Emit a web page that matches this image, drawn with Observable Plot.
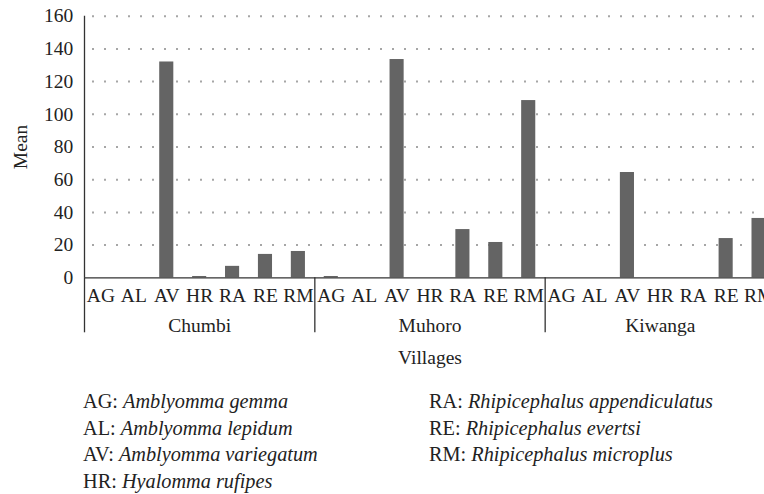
<!DOCTYPE html>
<html><head><meta charset="utf-8">
<script src="https://cdn.jsdelivr.net/npm/d3@7"></script>
<script src="https://cdn.jsdelivr.net/npm/@observablehq/plot@0.6"></script>
<style>
html,body{margin:0;padding:0;overflow:hidden;background:#fff;width:764px;height:494px;position:relative;}
#chart{position:absolute;left:0;top:0;}
#chart svg{max-width:none !important;}
.legend{position:absolute;top:388px;font-family:"Liberation Serif",serif;font-size:20.3px;line-height:26.5px;color:#222;white-space:nowrap;}
.legend i{font-style:italic;}
</style></head>
<body>
<div id="chart"></div>
<div class="legend" id="legL" style="left:83px"></div>
<div class="legend" id="legR" style="left:429px"></div>
<script>
const villages = ["Chumbi", "Muhoro", "Kiwanga"];
const species = ["AG", "AL", "AV", "HR", "RA", "RE", "RM"];
const chumbi = [0, 0, 132, 0.8, 7, 14.3, 16.1];
const muhoro = [0.8, 0, 133.5, 0, 29.5, 21.6, 108.4];
const kiwanga = [0, 0, 64.4, 0, 0, 24, 36.3];
const yTicks = [0, 20, 40, 60, 80, 100, 120, 140, 160];
const speciesNames = ["Amblyomma gemma", "Amblyomma lepidum", "Amblyomma variegatum", "Hyalomma rufipes",
  "Rhipicephalus appendiculatus", "Rhipicephalus evertsi", "Rhipicephalus microplus"];
const xTitle = "Villages";
const yTitle = "Mean";

const series = [chumbi, muhoro, kiwanga];
const rows = villages.flatMap((v, vi) => species.map((s, si) => ({village: v, species: s, key: v + "|" + s, mean: series[vi][si]})));
const keys = rows.map(d => d.key);

const W = 775, H = 380, ML = 84, MR = 0, MT = 15.7, MB = H - 277.3;
const step = (W - ML - MR) / keys.length;
const FS = 19.5;

const plot = Plot.plot({
  width: W, height: H, marginLeft: ML, marginRight: MR, marginTop: MT, marginBottom: MB,
  style: "max-width:none;font-family:'Liberation Serif',serif;font-size:19.5px;color:#222;background:#fff;overflow:visible",
  x: {type: "band", domain: keys, padding: 0, round: false, label: null},
  y: {domain: [0, 160], label: null},
  marks: [
    Plot.ruleY(yTicks.filter(t => t > 0), {stroke: "#a6a6a6", strokeWidth: 2, strokeDasharray: "2,10", strokeDashoffset: 4}),
    Plot.barY(rows, {x: "key", y: "mean", fill: "#646464", insetLeft: 9.4, insetRight: 9.4}),
    Plot.ruleY([0], {stroke: "#333", strokeWidth: 1.3}),
    Plot.ruleX([keys[0]], {dx: -step / 2, stroke: "#333", strokeWidth: 1.3}),
    Plot.axisX(villages.map(v => v + "|" + species[0]), {tickSize: 55, dx: -step / 2, tickFormat: () => "", stroke: "#333", strokeWidth: 1.3, label: null}),
    Plot.axisX({tickSize: 0, tickPadding: 10.5, tickFormat: d => d.split("|")[1], fontSize: FS, label: null}),
    Plot.axisY(yTicks, {tickSize: 0, tickPadding: 11.3, fontSize: FS, label: null}),
    Plot.text(villages, {x: v => v + "|" + species[3], text: d => d, frameAnchor: "bottom", dy: 48, fontSize: FS, textAnchor: "middle", lineAnchor: "middle"}),
    Plot.text([xTitle], {text: d => d, frameAnchor: "bottom", dy: 80, fontSize: FS, textAnchor: "middle", lineAnchor: "middle"}),
    Plot.text([yTitle], {text: d => d, frameAnchor: "left", dx: -64, rotate: -90, fontSize: FS, textAnchor: "middle", lineAnchor: "middle"})
  ]
});
document.getElementById("chart").appendChild(plot);

function legendHTML(idx) {
  return idx.map(i => `<div>${species[i]}: <i>${speciesNames[i]}</i></div>`).join("");
}
document.getElementById("legL").innerHTML = legendHTML([0, 1, 2, 3]);
document.getElementById("legR").innerHTML = legendHTML([4, 5, 6]);
</script>
</body></html>
